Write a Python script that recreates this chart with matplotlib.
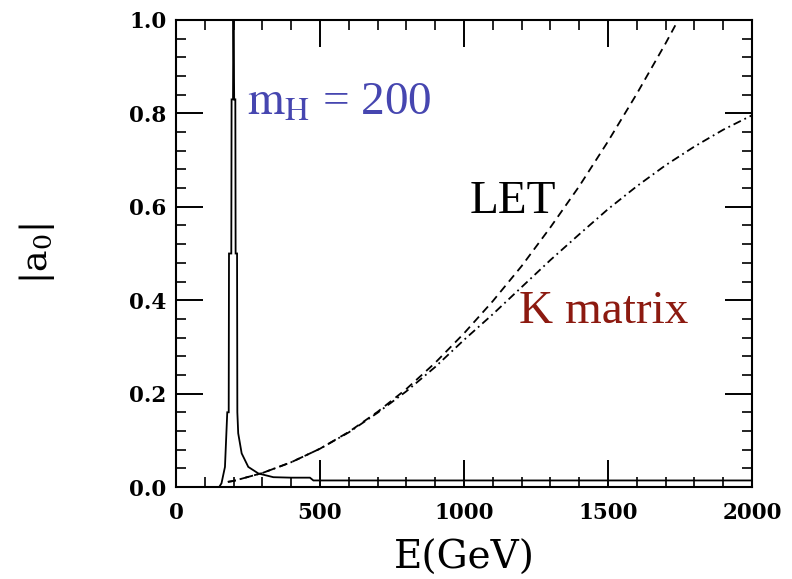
import numpy as np
import matplotlib
matplotlib.use("Agg")
import matplotlib.pyplot as plt
from matplotlib.ticker import MultipleLocator

# Higgs resonance, m_H = 200 GeV (solid)
res_E = [150, 158, 170, 178, 183, 184, 192, 193, 198, 199, 200, 202, 206, 207,
         212, 213, 216, 228, 251, 286, 338, 400, 465, 477, 2000]
res_a = [0.0, 0.008, 0.043, 0.16, 0.16, 0.5, 0.5, 0.83, 0.83, 1.0, 1.0, 0.83,
         0.83, 0.5, 0.5, 0.16, 0.115, 0.072, 0.043, 0.029, 0.021, 0.02, 0.02,
         0.014, 0.014]

# low energy theorem (dashed)
let_E = [180, 200, 300, 400, 500, 600, 700, 800, 900, 1000, 1100, 1200, 1300,
         1400, 1500, 1600, 1700, 1735]
let_a = [0.011, 0.013, 0.030, 0.053, 0.082, 0.118, 0.161, 0.210, 0.266, 0.329,
         0.398, 0.473, 0.556, 0.644, 0.740, 0.842, 0.950, 0.99]

# K-matrix unitarized (dash-dot)
km_E = [180, 200, 300, 400, 500, 600, 700, 800, 900, 1000, 1100, 1200, 1300,
        1400, 1500, 1600, 1700, 1800, 1900, 2000]
km_a = [0.011, 0.013, 0.030, 0.053, 0.082, 0.117, 0.159, 0.205, 0.257, 0.315,
        0.370, 0.428, 0.486, 0.541, 0.595, 0.644, 0.689, 0.729, 0.765, 0.796]

plt.rcParams['mathtext.fontset'] = 'dejavuserif'

fig = plt.figure(figsize=(7.92, 5.79), dpi=100)
ax = fig.add_axes([176/792, 1 - 487/579, 576/792, 467/579])

ax.plot(res_E, res_a, color='black', lw=1.3, solid_joinstyle='miter')
ax.plot(let_E, let_a, color='black', lw=1.3, dashes=(4.5, 3))
ax.plot(km_E, km_a, color='black', lw=1.3, dashes=(4.5, 2.2, 1, 2.2))

ax.set_xlim(0, 2000)
ax.set_ylim(0, 1.0)
ax.xaxis.set_major_locator(MultipleLocator(500))
ax.xaxis.set_minor_locator(MultipleLocator(100))
ax.yaxis.set_major_locator(MultipleLocator(0.2))
ax.yaxis.set_minor_locator(MultipleLocator(0.04))
ax.yaxis.set_major_formatter(plt.FuncFormatter(lambda v, p: f"{v:.1f}"))

ax.tick_params(which='both', direction='in', top=True, right=True)
ax.tick_params(which='major', length=19.5, width=1.4, pad=11)
ax.tick_params(which='minor', length=7, width=1.2)
ax.tick_params(axis='y', which='major', pad=7)
for lab in ax.get_xticklabels() + ax.get_yticklabels():
    lab.set_fontfamily('DejaVu Serif')
    lab.set_fontweight('bold')
    lab.set_fontsize(15.5)
for s in ax.spines.values():
    s.set_linewidth(1.5)

ax.set_xlabel('E(GeV)', family='DejaVu Serif', fontsize=28, labelpad=11)
ax.set_ylabel(r'|a$_0$|', family='DejaVu Serif', fontsize=26, labelpad=52)

ax.text(247, 0.797, r'$\mathrm{m}_\mathrm{H}$ = 200', color='#4646b0',
        fontsize=34, family='Liberation Serif', math_fontfamily='stix')
ax.text(1020, 0.586, 'LET', color='black', fontsize=34,
        family='Liberation Serif')
ax.text(1190, 0.351, 'K matrix', color='#8c1a10', fontsize=34,
        family='Liberation Serif')

fig.savefig('out.png', dpi=100)
